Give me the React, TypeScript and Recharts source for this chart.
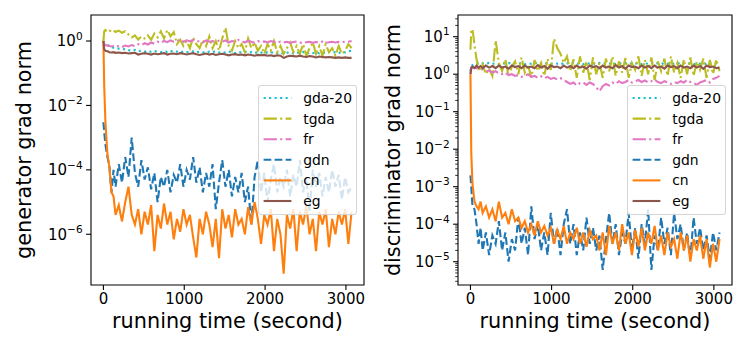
import React from "react";
import { LineChart, Line, XAxis, YAxis, ReferenceArea, Legend } from "recharts";

const FONT = "DejaVu Sans, sans-serif";

// running time (s), shared by every series
const times = [
  0, 10, 25, 50, 75, 100, 125, 150, 190, 230,
  270, 310, 350, 390, 430, 470, 510, 550, 590, 630,
  670, 710, 750, 790, 830, 870, 910, 950, 990, 1030,
  1070, 1110, 1150, 1190, 1230, 1270, 1310, 1350, 1390, 1430,
  1470, 1510, 1550, 1590, 1630, 1670, 1710, 1750, 1790, 1830,
  1870, 1910, 1950, 1990, 2030, 2070, 2110, 2150, 2190, 2230,
  2270, 2310, 2350, 2390, 2430, 2470, 2510, 2550, 2590, 2630,
  2670, 2710, 2750, 2790, 2830, 2870, 2910, 2950, 2990, 3030,
  3070,
];

// generator grad norm
const genGda20 = [
  1.0, 0.9, 0.85, 0.75, 0.7, 0.65, 0.62, 0.6, 0.58, 0.55,
  0.56, 0.52, 0.5, 0.53, 0.48, 0.5, 0.47, 0.5, 0.46, 0.49,
  0.47, 0.45, 0.48, 0.46, 0.5, 0.45, 0.47, 0.44, 0.48, 0.46,
  0.45, 0.48, 0.44, 0.47, 0.45, 0.43, 0.47, 0.45, 0.48, 0.44,
  0.46, 0.43, 0.47, 0.45, 0.42, 0.46, 0.44, 0.47, 0.43, 0.45,
  0.42, 0.46, 0.44, 0.41, 0.45, 0.43, 0.46, 0.42, 0.44, 0.4,
  0.43, 0.45, 0.41, 0.44, 0.42, 0.46, 0.4, 0.44, 0.42, 0.45,
  0.41, 0.44, 0.42, 0.46, 0.43, 0.45, 0.42, 0.47, 0.44, 0.48,
  0.5,
];
const genTgda = [
  1.0, 2.0, 2.2, 1.9, 2.1, 2.0, 2.2, 1.9, 2.1, 1.8,
  2.0, 1.6, 1.3, 1.5, 1.1, 1.4, 1.2, 1.5, 1.1, 1.7,
  1.3, 2.0, 1.2, 2.2, 1.4, 1.9, 0.8, 1.1, 0.7, 1.0,
  0.6, 1.3, 0.8, 0.6, 1.1, 0.7, 1.4, 0.6, 1.0, 0.5,
  1.2, 2.6, 0.7, 0.5, 1.0, 0.6, 0.8, 0.45, 1.2, 0.6,
  0.9, 0.5, 0.7, 0.4, 0.8, 0.5, 1.0, 0.45, 0.7, 0.4,
  0.6, 0.9, 0.45, 0.7, 0.4, 0.8, 0.35, 0.6, 0.9, 0.4,
  0.7, 0.35, 0.8, 0.45, 0.6, 0.35, 0.7, 0.4, 0.5, 0.8,
  0.6,
];
const genFr = [
  1.0, 0.8, 0.75, 0.72, 0.7, 0.68, 0.7, 0.66, 0.7, 0.65,
  0.72, 0.68, 0.75, 0.7, 0.8, 0.74, 0.85, 0.78, 0.9, 0.82,
  0.95, 0.88, 1.0, 0.92, 1.05, 0.95, 1.0, 1.1, 0.95, 1.05,
  0.98, 1.08, 0.95, 1.0, 0.9, 1.05, 0.95, 1.0, 0.92, 1.02,
  0.95, 1.05, 0.9, 1.0, 0.95, 1.08, 0.98, 0.9, 1.02, 0.95,
  0.88, 1.0, 0.92, 0.97, 0.9, 1.0, 0.94, 0.88, 0.96, 0.9,
  0.95, 0.88, 0.93, 0.97, 0.9, 0.86, 0.92, 0.95, 0.88, 0.93,
  0.9, 0.96, 0.88, 0.92, 0.95, 0.9, 0.94, 0.92, 0.96, 0.95,
  1.0,
];
const genGdn = [
  3e-3, 1.5e-3, 6e-4, 2.5e-4, 1.2e-4, 2e-5, 1e-4, 3e-5, 1.5e-4, 4e-5,
  2.5e-4, 6e-5, 1e-3, 8e-5, 3e-5, 2e-4, 5e-5, 1.2e-4, 2.5e-5, 8e-5,
  1e-5, 6e-5, 3e-5, 1e-4, 2e-5, 7e-5, 4e-5, 1.5e-4, 3e-5, 1e-4,
  5e-5, 2.5e-4, 4e-5, 1.2e-4, 2e-5, 8e-5, 3e-5, 1.5e-4, 6e-6, 4e-5,
  2e-4, 3e-5, 1e-4, 1.5e-5, 6e-5, 2e-5, 8e-5, 1e-5, 3e-5, 2e-6,
  6e-5, 2e-4, 2e-5, 8e-5, 1e-5, 5e-5, 1.5e-4, 2e-5, 6e-5, 3e-5,
  1e-4, 1.5e-5, 7e-5, 3e-5, 2e-4, 2e-5, 6e-5, 5e-6, 1e-4, 3e-5,
  8e-5, 1.5e-5, 6e-5, 2e-5, 1e-4, 3e-5, 7e-5, 1.2e-5, 6e-5, 2e-5,
  3e-5,
];
const genCn = [
  1, 4e-2, 3e-3, 3e-4, 1.2e-4, 2e-5, 1.5e-5, 4e-6, 8e-6, 2.5e-6,
  1e-5, 3e-5, 4e-6, 2e-6, 6e-6, 1e-6, 5e-6, 2e-6, 8e-6, 3e-7,
  4e-6, 1.5e-6, 9e-6, 2e-6, 5e-6, 7e-7, 3e-6, 1.2e-6, 6e-6, 2e-6,
  4e-6, 8e-7, 1.9e-7, 3e-6, 1e-6, 5e-6, 2e-6, 4e-7, 3e-6, 1.8e-7,
  6e-6, 1.5e-6, 4e-6, 8e-7, 6e-6, 2e-6, 3e-6, 1e-6, 7e-6, 2e-6,
  1e-5, 3e-6, 5e-7, 4e-6, 2e-6, 6e-6, 3e-7, 3e-6, 1e-6, 6e-8,
  4e-6, 1.5e-6, 6e-6, 3e-7, 5e-6, 2e-6, 8e-6, 1e-6, 3e-6, 3e-7,
  5e-6, 2e-6, 6e-6, 4e-7, 3e-6, 1e-6, 5e-6, 2e-6, 6e-6, 5e-7,
  5e-6,
];
const genEg = [
  1.0, 0.55, 0.5, 0.48, 0.45, 0.44, 0.45, 0.43, 0.44, 0.42,
  0.43, 0.41, 0.42, 0.43, 0.38, 0.4, 0.42, 0.4, 0.38, 0.41,
  0.39, 0.4, 0.42, 0.38, 0.4, 0.41, 0.39, 0.42, 0.4, 0.38,
  0.4, 0.42, 0.39, 0.37, 0.39, 0.41, 0.38, 0.4, 0.37, 0.39,
  0.4, 0.38, 0.36, 0.38, 0.39, 0.37, 0.38, 0.36, 0.38, 0.37,
  0.35, 0.37, 0.36, 0.37, 0.35, 0.36, 0.34, 0.36, 0.35, 0.3,
  0.33, 0.35, 0.34, 0.33, 0.35, 0.33, 0.32, 0.34, 0.33, 0.31,
  0.33, 0.32, 0.31, 0.32, 0.31, 0.3, 0.31, 0.3, 0.31, 0.3,
  0.3,
];

// discriminator grad norm
const disGda20 = [
  1.2, 1.6, 1.75, 1.85, 1.9, 1.95, 1.85, 1.95, 1.9, 2.0,
  1.9, 1.95, 1.85, 2.0, 1.9, 2.0, 1.85, 1.95, 1.9, 2.0,
  1.85, 1.95, 1.9, 2.05, 1.9, 1.95, 1.85, 2.0, 1.9, 1.95,
  1.9, 2.0, 1.85, 1.95, 1.9, 2.05, 1.9, 1.95, 1.85, 2.0,
  1.9, 1.95, 1.85, 2.0, 1.9, 1.95, 1.9, 2.05, 1.85, 1.95,
  1.9, 2.0, 1.85, 1.95, 1.9, 2.0, 1.85, 1.95, 1.9, 2.05,
  1.9, 1.95, 1.85, 2.0, 1.9, 1.95, 1.9, 2.0, 1.85, 1.95,
  1.9, 2.0, 1.85, 1.95, 1.9, 2.0, 1.85, 1.95, 1.9, 1.95,
  1.9,
];
const disTgda = [
  4.5, 14, 16, 6, 2.5, 1.5, 1.2, 1.8, 1.0, 1.4,
  0.9, 8.0, 2.0, 1.2, 2.5, 0.9, 1.6, 2.2, 1.0, 2.8,
  1.1, 1.8, 0.8, 2.4, 1.2, 2.0, 0.9, 2.6, 1.3, 9.0,
  5.0, 3.5, 2.0, 3.0, 1.2, 2.5, 0.8, 3.0, 1.1, 2.2,
  0.7, 2.8, 1.0, 2.0, 0.8, 2.6, 1.2, 3.0, 0.9, 2.2,
  1.1, 2.7, 0.8, 2.0, 1.3, 3.0, 0.9, 2.4, 1.0, 2.8,
  0.7, 2.2, 1.2, 2.6, 0.9, 3.0, 1.1, 2.0, 0.8, 2.5,
  1.0, 2.8, 0.9, 2.2, 1.3, 2.6, 0.8, 2.4, 1.0, 2.5,
  1.2,
];
const disFr = [
  1.0, 1.4, 1.5, 1.5, 1.45, 1.4, 1.3, 1.35, 1.2, 1.25,
  1.1, 1.2, 1.05, 1.0, 1.1, 0.95, 1.0, 0.9, 0.95, 0.85,
  0.9, 1.0, 0.85, 0.9, 0.8, 0.88, 0.78, 0.85, 0.75, 0.8,
  0.72, 0.78, 0.7, 0.62, 0.55, 0.6, 0.5, 0.58, 0.6, 0.52,
  0.6, 0.55, 0.45, 0.35, 0.48, 0.55, 0.5, 0.6, 0.55, 0.65,
  0.58, 0.62, 0.7, 0.6, 0.65, 0.7, 0.62, 0.68, 0.6, 0.65,
  0.72, 0.62, 0.58, 0.65, 0.6, 0.55, 0.62, 0.58, 0.65, 0.6,
  0.7, 0.62, 0.58, 0.52, 0.6, 0.65, 0.7, 0.6, 0.75, 0.8,
  0.9,
];
const disGdn = [
  2e-3, 1e-3, 3e-4, 2.5e-4, 1e-4, 3e-5, 8e-5, 2e-5, 6e-5, 1.5e-5,
  5e-5, 3e-5, 1.2e-4, 2e-5, 6e-5, 1e-5, 4e-5, 2e-5, 1.5e-4, 3e-5,
  8e-5, 1.5e-5, 3e-4, 4e-5, 1e-4, 2e-5, 6e-5, 1.5e-5, 2e-4, 3e-5,
  8e-5, 1.5e-5, 1e-4, 2.5e-4, 3e-5, 1e-4, 1.5e-5, 6e-5, 2e-5, 1.5e-4,
  3e-5, 8e-5, 2e-5, 5e-5, 6e-6, 4e-5, 2e-4, 3e-5, 1e-4, 1.5e-5,
  6e-5, 3e-5, 2e-4, 2e-5, 8e-5, 1.2e-5, 1e-4, 3e-5, 2.5e-4, 6e-6,
  5e-5, 2e-5, 1.5e-4, 3e-5, 8e-5, 1.5e-5, 2e-4, 4e-5, 1e-4, 2e-5,
  6e-5, 1.2e-5, 1.5e-4, 3e-5, 8e-5, 2e-5, 5e-5, 1.2e-5, 6e-5, 2e-5,
  6e-5,
];
const disCn = [
  1, 8e-3, 1.2e-3, 4e-4, 3e-4, 2.5e-4, 4e-4, 2e-4, 3e-4, 1.5e-4,
  2.5e-4, 1.2e-4, 4e-4, 1.5e-4, 2e-4, 1e-4, 2.5e-4, 1.2e-4, 1.5e-4, 8e-5,
  1.2e-4, 6e-5, 1e-4, 5e-5, 1.2e-4, 6e-5, 9e-5, 5e-5, 8e-5, 3e-5,
  7e-5, 4e-5, 9e-5, 3e-5, 6e-5, 4e-5, 8e-5, 3e-5, 6e-5, 2.5e-5,
  7e-5, 4e-5, 5e-5, 2e-5, 6e-5, 1.5e-5, 9e-5, 3e-5, 6e-5, 2e-5,
  1e-4, 3e-5, 6e-5, 1.5e-5, 7e-5, 2.5e-5, 8e-5, 2e-5, 6e-5, 3e-5,
  9e-5, 2e-5, 5e-5, 1.5e-5, 6e-5, 2.5e-5, 4e-5, 1.2e-5, 6e-5, 2e-5,
  5e-5, 1e-5, 4e-5, 2e-5, 5e-5, 1.2e-5, 4e-5, 7e-6, 3e-5, 1e-5,
  4e-5,
];
const disEg = [
  1.0, 1.5, 1.6, 1.45, 1.7, 1.5, 1.65, 1.45, 1.7, 1.5,
  1.65, 1.45, 1.7, 1.5, 1.6, 1.4, 1.7, 1.55, 1.65, 1.45,
  1.7, 1.5, 1.6, 1.45, 1.75, 1.5, 1.65, 1.4, 1.7, 1.55,
  1.6, 1.45, 1.7, 1.5, 1.65, 1.45, 1.7, 1.5, 1.6, 1.4,
  1.7, 1.55, 1.65, 1.45, 1.7, 1.5, 1.6, 1.45, 1.75, 1.5,
  1.65, 1.4, 1.7, 1.55, 1.6, 1.45, 1.7, 1.5, 1.65, 1.45,
  1.7, 1.5, 1.6, 1.4, 1.7, 1.55, 1.65, 1.45, 1.7, 1.5,
  1.6, 1.45, 1.7, 1.5, 1.65, 1.4, 1.7, 1.55, 1.6, 1.45,
  1.5,
];

const xTicks = [0, 1000, 2000, 3000];
const genTicks = [1e-6, 1e-4, 1e-2, 1];
const disMajor = [1e-5, 1e-4, 1e-3, 1e-2, 1e-1, 1, 10];

const genDomain: [number, number] = [2.66e-8, 6.42];
const disDomain: [number, number] = [2.39e-6, 37.9];
const xDomain: [number, number] = [-153.5, 3223.5];

// minor log ticks for the discriminator axis
const disMinor: number[] = [];
for (let k = -6; k <= 1; k++) {
  for (let m = 2; m <= 9; m++) {
    const v = m * Math.pow(10, k);
    if (v >= disDomain[0] && v <= disDomain[1]) disMinor.push(v);
  }
}

const series = [
  { key: "gda20", name: "gda-20", color: "#17becf", dash: "2.1 3.4" },
  { key: "tgda", name: "tgda", color: "#bcbd22", dash: "13.3 3.3 2.1 3.3" },
  { key: "fr", name: "fr", color: "#e377c2", dash: "13.3 3.3 2.1 3.3" },
  { key: "gdn", name: "gdn", color: "#1f77b4", dash: "7.7 3.3" },
  { key: "cn", name: "cn", color: "#ff7f0e", dash: undefined },
  { key: "eg", name: "eg", color: "#8c564b", dash: undefined },
];

const genRows = times.map((t, i) => ({
  t, gda20: genGda20[i], tgda: genTgda[i], fr: genFr[i], gdn: genGdn[i], cn: genCn[i], eg: genEg[i],
}));
const disRows = times.map((t, i) => ({
  t, gda20: disGda20[i], tgda: disTgda[i], fr: disFr[i], gdn: disGdn[i], cn: disCn[i], eg: disEg[i],
}));

const expLabel = (v: number) => {
  const n = Math.round(Math.log10(v));
  return n < 0 ? "\u2212" + Math.abs(n) : String(n);
};

const YTick = (props: any) => {
  const { x, y, payload } = props;
  const lg = Math.log10(payload.value);
  const major = Math.abs(lg - Math.round(lg)) < 1e-6;
  if (!major) {
    return <line x1={x - 2.8} y1={y} x2={x} y2={y} stroke="#000" strokeWidth={0.8} />;
  }
  return (
    <g>
      <line x1={x - 4.9} y1={y} x2={x} y2={y} stroke="#000" strokeWidth={1.1} />
      <text x={x - 8.4} y={y + 5.3} textAnchor="end" fontSize={15} fontFamily={FONT} fill="#000">
        10<tspan dy={-6.5} fontSize={10.5}>{expLabel(payload.value)}</tspan>
      </text>
    </g>
  );
};

const XTick = (props: any) => {
  const { x, y, payload } = props;
  return (
    <g>
      <line x1={x} y1={y} x2={x} y2={y + 4.9} stroke="#000" strokeWidth={1.1} />
      <text x={x} y={y + 19} textAnchor="middle" fontSize={15} fontFamily={FONT} fill="#000">
        {payload.value}
      </text>
    </g>
  );
};

const LegendBox = () => (
  <div
    style={{
      position: "relative", width: 99, height: 130, boxSizing: "border-box",
      background: "rgba(255,255,255,0.8)", border: "1px solid rgba(204,204,204,0.8)", borderRadius: 3,
    }}
  >
    <svg width={99} height={130} style={{ position: "absolute", left: -1, top: -1, overflow: "visible" }}>
      {series.map((s, i) => {
        const cy = 13 + i * 20.6;
        return (
          <g key={s.key}>
            <line x1={5.6} x2={33.4} y1={cy} y2={cy} stroke={s.color} strokeWidth={2.1} strokeDasharray={s.dash} />
            <text x={45.2} y={cy + 5} fontSize={13.9} fontFamily={FONT} fill="#000">{s.name}</text>
          </g>
        );
      })}
    </svg>
  </div>
);

type PanelProps = {
  rows: any[];
  yDomain: [number, number];
  yTicks: number[];
  yLabel: string;
  yWidth: number;
  rightMargin: number;
  labelX: number;
  legendLeft: number;
};

const Panel = ({ rows, yDomain, yTicks, yLabel, yWidth, rightMargin, labelX, legendLeft }: PanelProps) => {
  const cx = (yWidth + 375 - rightMargin) / 2;
  return (
    <LineChart width={375} height={350} data={rows} margin={{ top: 15, right: rightMargin, bottom: 0, left: 0 }}>
      <XAxis
        dataKey="t" type="number" domain={xDomain} ticks={xTicks} interval={0} allowDataOverflow
        axisLine={false} tickLine={false} tickSize={0} tickMargin={0} height={65} tick={<XTick />}
        label={() => (
          <text x={cx} y={328} textAnchor="middle" fontSize={20.8} fontFamily={FONT} fill="#000">
            running time (second)
          </text>
        )}
      />
      <YAxis
        type="number" scale="log" domain={yDomain} ticks={yTicks} interval={0} allowDataOverflow
        axisLine={false} tickLine={false} tickSize={0} tickMargin={0} width={yWidth} tick={<YTick />}
        label={() => (
          <text x={labelX} y={150} transform={`rotate(-90 ${labelX} 150)`} textAnchor="middle"
            fontSize={20.8} fontFamily={FONT} fill="#000">
            {yLabel}
          </text>
        )}
      />
      <ReferenceArea
        x1={xDomain[0]} x2={xDomain[1]} y1={yDomain[0]} y2={yDomain[1]}
        fill="none" stroke="#000" strokeWidth={1.1} ifOverflow="visible"
      />
      {series.map((s) => (
        <Line
          key={s.key} dataKey={s.key} name={s.name} type="linear" stroke={s.color}
          strokeWidth={2.1} strokeDasharray={s.dash} dot={false} activeDot={false}
          isAnimationActive={false}
        />
      ))}
      <Legend
        layout="vertical" align="center" verticalAlign="middle"
        wrapperStyle={{ left: legendLeft, top: 85, width: 99, height: 130 }}
        content={() => <LegendBox />}
      />
    </LineChart>
  );
};

export default function App() {
  return (
    <div style={{ position: "absolute", left: 0, top: 0, width: 750, height: 350, background: "#fff", fontFamily: FONT }}>
      <div style={{ position: "absolute", left: 0, top: 0 }}>
        <Panel rows={genRows} yDomain={genDomain} yTicks={genTicks} yLabel="generator grad norm"
          yWidth={91} rightMargin={11} labelX={31.2} legendLeft={258} />
      </div>
      <div style={{ position: "absolute", left: 375, top: 0 }}>
        <Panel rows={disRows} yDomain={disDomain} yTicks={[...disMajor, ...disMinor]} yLabel="discriminator grad norm"
          yWidth={83} rightMargin={18} labelX={24.5} legendLeft={252} />
      </div>
    </div>
  );
}
